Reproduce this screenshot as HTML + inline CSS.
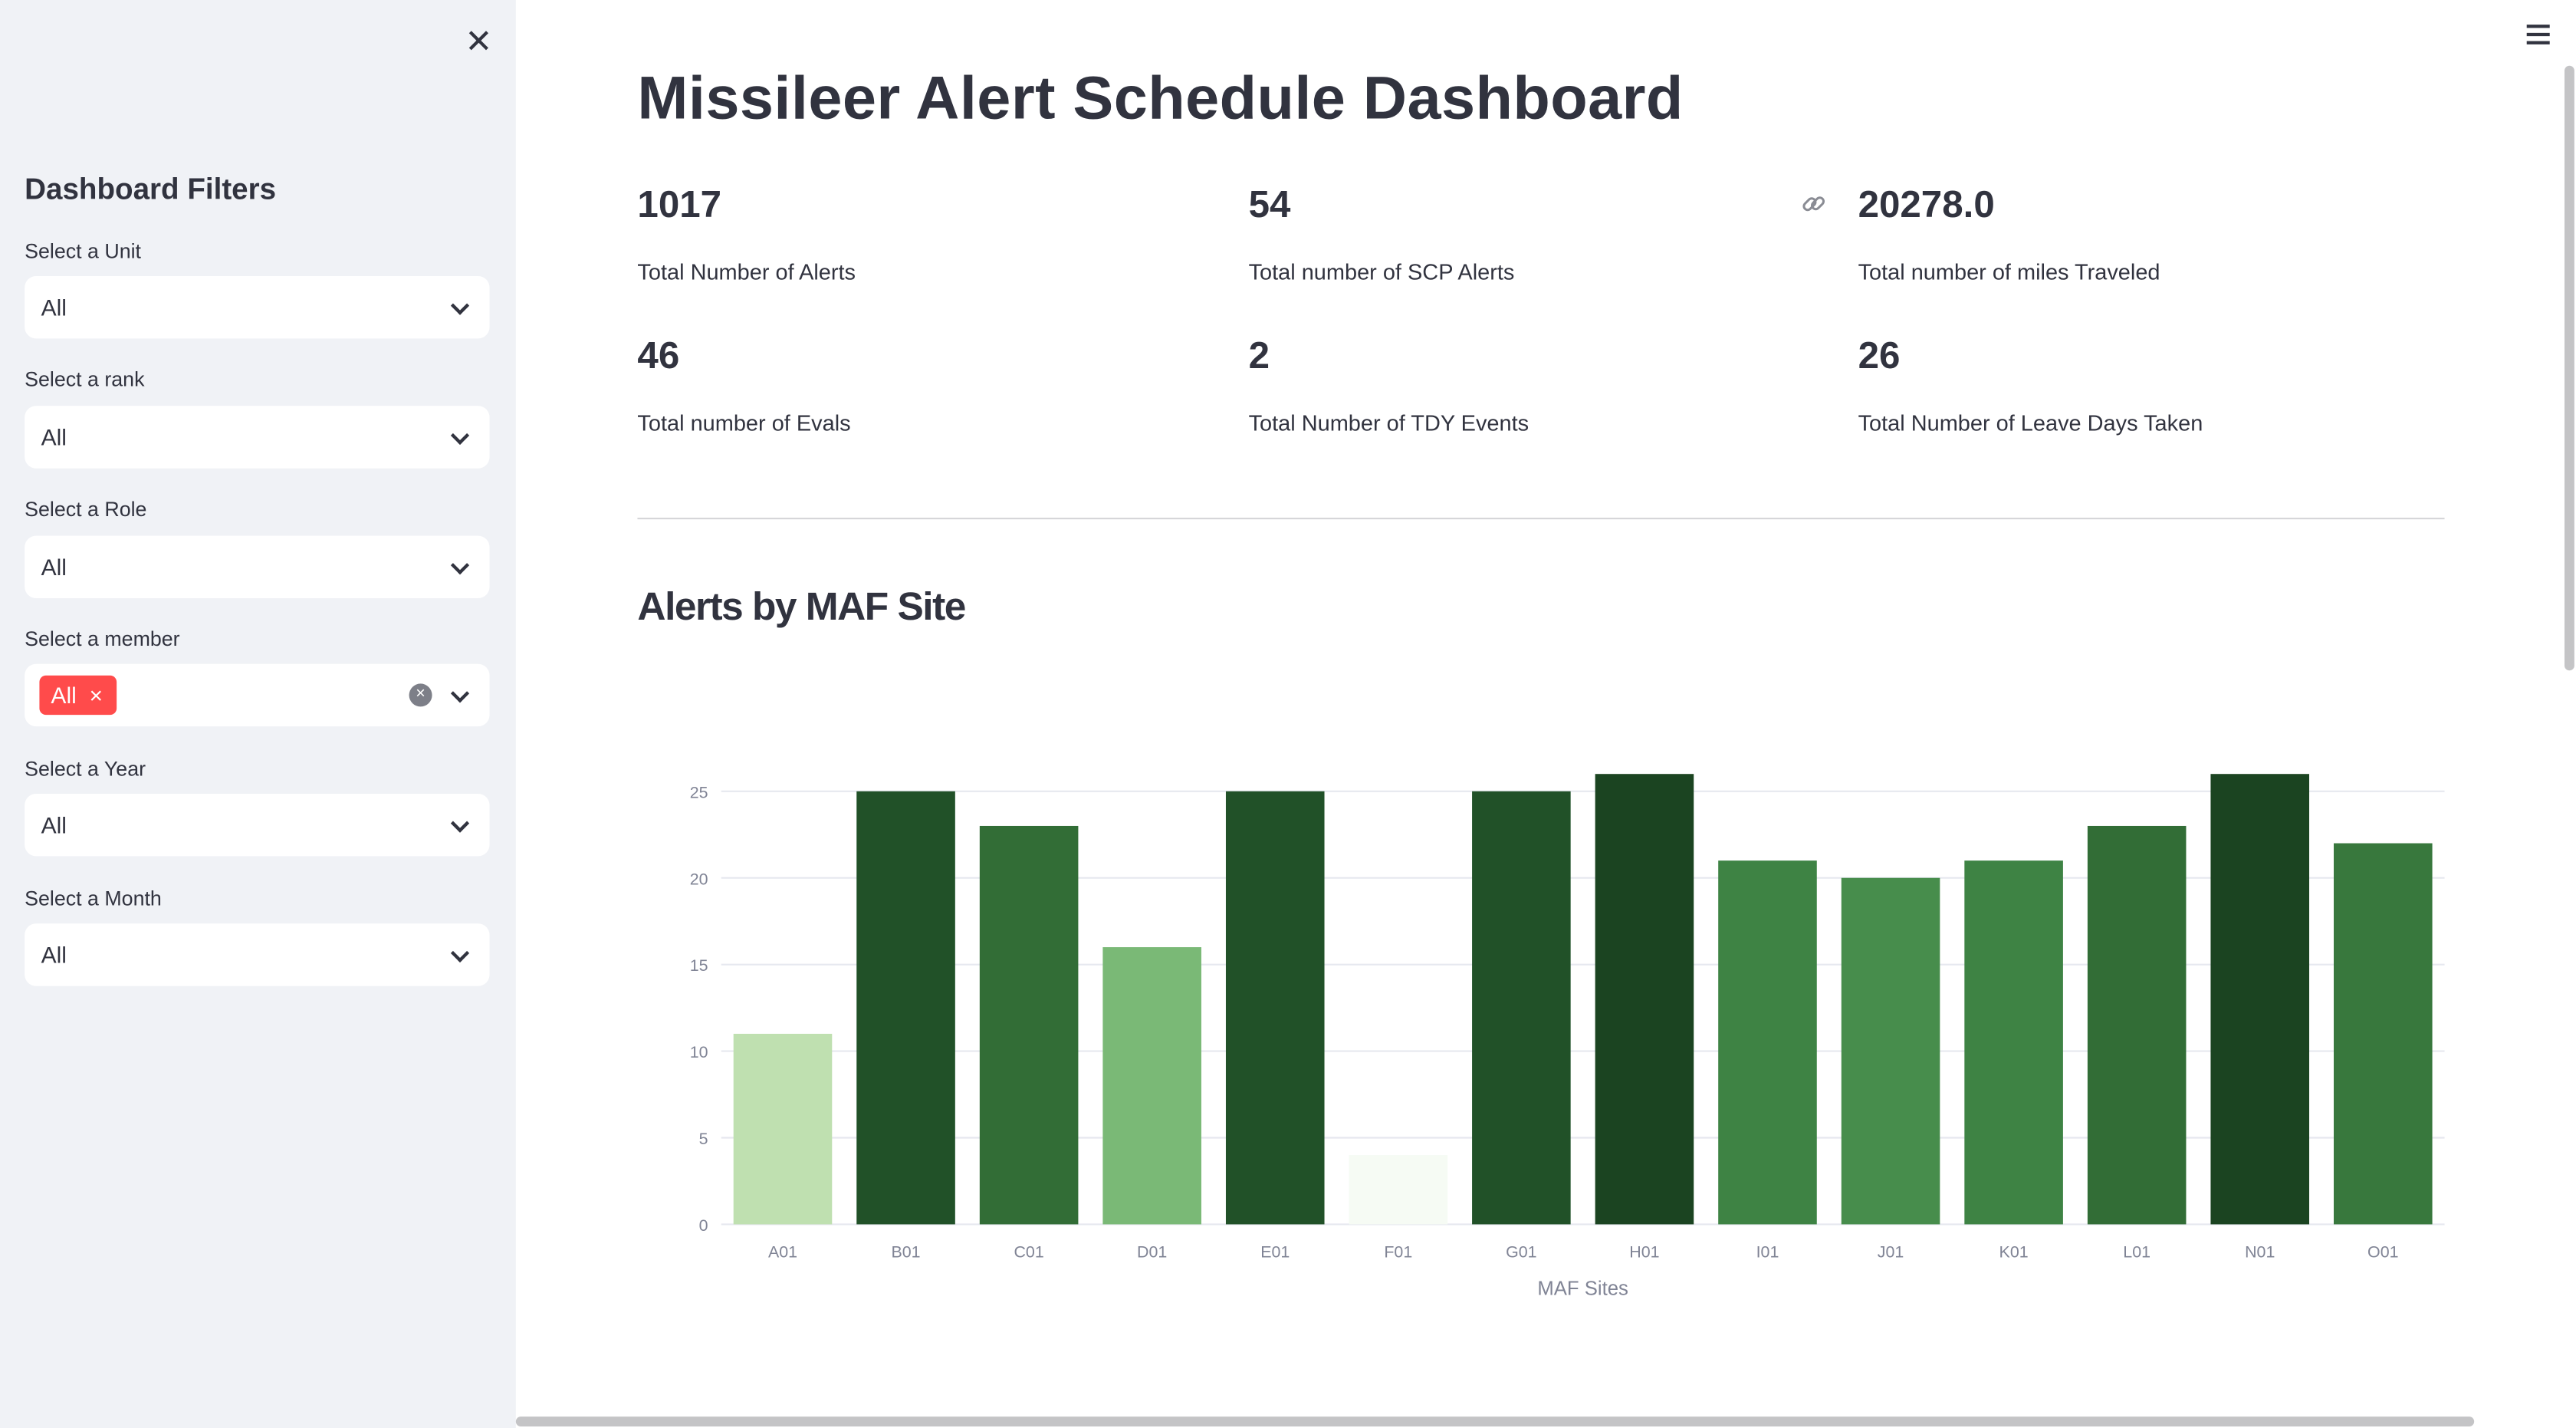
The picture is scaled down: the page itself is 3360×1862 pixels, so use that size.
<!DOCTYPE html>
<html><head><meta charset="utf-8">
<style>
html,body{margin:0;padding:0;width:3360px;height:1862px;overflow:hidden;background:#fff;}
#wrap{position:absolute;left:0;top:0;width:1568px;height:869px;transform:scale(2.142857);transform-origin:0 0;font-family:"Liberation Sans",sans-serif;color:#31333f;}
.abs{position:absolute;}
#side{left:0;top:0;width:314px;height:869px;background:#f0f2f6;}
.lbl{position:absolute;left:15px;font-size:12.5px;}
.sel{position:absolute;left:15px;width:283px;height:38px;background:#fff;border-radius:7px;}
.sel .v{position:absolute;left:10px;top:11px;font-size:14px;}
.chev{position:absolute;right:14px;top:14px;width:6px;height:6px;border-right:2px solid #31333f;border-bottom:2px solid #31333f;transform:rotate(45deg);}
.mv{position:absolute;font-size:23px;font-weight:bold;}
.ml{position:absolute;font-size:13.5px;}
</style></head><body>
<div id="wrap">
 <div id="side" class="abs">
  <div class="abs" style="left:283px;top:13px;font-size:20px;color:#31333f;">✕</div>
  <div class="abs" style="left:15px;top:105px;font-size:18px;font-weight:bold;">Dashboard Filters</div>
  <div class="lbl" style="top:146px">Select a Unit</div>
  <div class="sel" style="top:168px"><span class="v">All</span><span class="chev"></span></div>
  <div class="lbl" style="top:224px">Select a rank</div>
  <div class="sel" style="top:247px"><span class="v">All</span><span class="chev"></span></div>
  <div class="lbl" style="top:303px">Select a Role</div>
  <div class="sel" style="top:326px"><span class="v">All</span><span class="chev"></span></div>
  <div class="lbl" style="top:382px">Select a member</div>
  <div class="sel" style="top:404px">
   <span class="abs" style="left:9px;top:7px;width:47px;height:24px;background:#ff4b4b;border-radius:4px;color:#fff;font-size:14px;line-height:24px;text-indent:7px;">All&nbsp;&nbsp;×</span>
   <span class="abs" style="left:234px;top:12px;width:14px;height:14px;border-radius:50%;background:#7d7f88;color:#fff;font-size:10px;line-height:14px;text-align:center;">×</span>
   <span class="chev"></span></div>
  <div class="lbl" style="top:461px">Select a Year</div>
  <div class="sel" style="top:483px"><span class="v">All</span><span class="chev"></span></div>
  <div class="lbl" style="top:540px">Select a Month</div>
  <div class="sel" style="top:562px"><span class="v">All</span><span class="chev"></span></div>
 </div>
 <div class="abs" style="left:1538px;top:15px;width:14px;">
  <div style="height:2px;background:#31333f;margin-bottom:3px"></div><div style="height:2px;background:#31333f;margin-bottom:3px"></div><div style="height:2px;background:#31333f"></div></div>
 <div class="abs" style="left:1561px;top:40px;width:6px;height:368px;background:#c4c4c6;border-radius:3px;"></div>
 <div class="abs" style="left:314px;top:862px;width:1192px;height:6px;background:#c4c4c6;border-radius:3px;"></div>
 <div class="abs" style="left:388px;top:39px;font-size:37px;font-weight:bold;letter-spacing:0.2px;">Missileer Alert Schedule Dashboard</div>
 <div class="mv" style="left:388px;top:111px">1017</div>
 <div class="ml" style="left:388px;top:158px">Total Number of Alerts</div>
 <div class="mv" style="left:760px;top:111px">54</div>
 <div class="ml" style="left:760px;top:158px">Total number of SCP Alerts</div>
 <svg class="abs" style="left:1096px;top:116px" width="16" height="16" viewBox="0 0 16 16"><g fill="none" stroke="#8a8c94" stroke-width="1.4"><rect x="1.5" y="6" width="8" height="4.5" rx="2.2" transform="rotate(-45 5.5 8.2)"/><rect x="6.5" y="5.5" width="8" height="4.5" rx="2.2" transform="rotate(-45 10.5 7.8)"/></g></svg>
 <div class="mv" style="left:1131px;top:111px">20278.0</div>
 <div class="ml" style="left:1131px;top:158px">Total number of miles Traveled</div>
 <div class="mv" style="left:388px;top:203px">46</div>
 <div class="ml" style="left:388px;top:250px">Total number of Evals</div>
 <div class="mv" style="left:760px;top:203px">2</div>
 <div class="ml" style="left:760px;top:250px">Total Number of TDY Events</div>
 <div class="mv" style="left:1131px;top:203px">26</div>
 <div class="ml" style="left:1131px;top:250px">Total Number of Leave Days Taken</div>
 <div class="abs" style="left:388px;top:315px;width:1100px;height:1px;background:#d6d6d9;"></div>
 <div class="abs" style="left:388px;top:356px;font-size:24px;font-weight:bold;letter-spacing:-0.7px;">Alerts by MAF Site</div>
 <svg class="abs" id="chart" style="left:0;top:0" width="1568" height="869"></svg>
</div>
<script>
const categories=["A01","B01","C01","D01","E01","F01","G01","H01","I01","J01","K01","L01","N01","O01"];
const alertValues=[11,25,23,16,25,4,25,26,21,20,21,23,26,22];
const yTicks=[0,5,10,15,20,25];
const svg=document.getElementById('chart');
const NS='http://www.w3.org/2000/svg';
const x0=439,x1=1488,yBase=745,pxPerUnit=10.54;
const band=(x1-x0)/categories.length;
const xPos=i=>x0+band*i+band/2;
const yPos=v=>yBase-v*pxPerUnit;
const vmin=Math.min(...alertValues),vmax=Math.max(...alertValues);
const stops2=[[0,[246,251,244]],[0.32,[191,224,176]],[0.55,[121,184,117]],[0.75,[65,136,71]],[0.86,[51,110,55]],[0.95,[34,82,41]],[1,[27,68,33]]];
function color(v){const t=(v-vmin)/(vmax-vmin||1);for(let i=1;i<stops2.length;i++){if(t<=stops2[i][0]){const a=stops2[i-1],b=stops2[i];const f=(t-a[0])/(b[0]-a[0]);const c=a[1].map((q,k)=>Math.round(q+(b[1][k]-q)*f));return `rgb(${c})`;}}return 'rgb(27,68,33)';}
function mk(tag,attrs){const e=document.createElementNS(NS,tag);for(const k in attrs)e.setAttribute(k,attrs[k]);svg.appendChild(e);return e;}
yTicks.forEach(t=>{
 const g=mk('line',{x1:x0,x2:x1,y1:yPos(t),y2:yPos(t),stroke:'#e6e8ef','stroke-width':1});
 
 
 const l=mk('text',{x:431,y:yPos(t)+4,'text-anchor':'end','font-size':10,fill:'#808495','font-family':'Liberation Sans, sans-serif'});
 l.textContent=t;
 
 
});
categories.forEach((c,i)=>{
 const v=alertValues[i];
 const r=mk('rect',{x:xPos(i)-30,y:yPos(v),width:60,height:v*pxPerUnit,fill:color(v)});
 
 
 const l=mk('text',{x:xPos(i),y:765,'text-anchor':'middle','font-size':10,fill:'#808495','font-family':'Liberation Sans, sans-serif'});
 l.textContent=c;
 
 
});
const xt=mk('text',{x:(x0+x1)/2,y:788,'text-anchor':'middle','font-size':12,fill:'#808495','font-family':'Liberation Sans, sans-serif'});
xt.textContent='MAF Sites';


</script>
</body></html>
